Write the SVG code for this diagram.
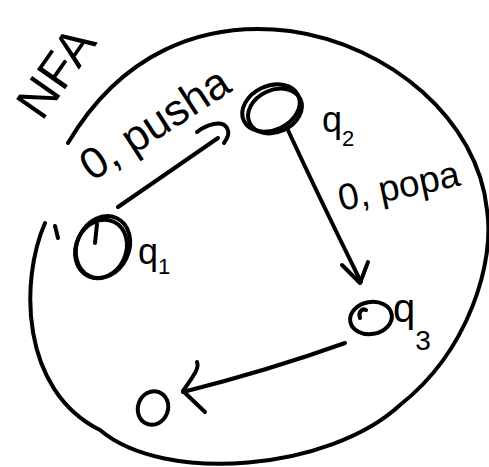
<svg xmlns="http://www.w3.org/2000/svg" width="489" height="467" viewBox="0 0 489 467">
<style>
.s{fill:none;stroke:#000;stroke-width:4;stroke-linecap:round;stroke-linejoin:round}
.t{font-family:"Liberation Sans",Arial,sans-serif;fill:#000}
</style>
<rect width="489" height="467" fill="#fff"/>
<g id="boundary">
<path class="s" d="M45,223 C20,280 20,390 100,430 C165,485 330,470 400,405 C470,350 495,260 487,210 C478,120 390,45 290,31 C200,20 120,55 68,143"/>
<path class="s" d="M55,226 L58,238"/>
</g>
<g id="title"><text class="t" x="42" y="122" font-size="50" transform="rotate(-55 42 122)">NFA</text></g>
<g id="q1">
<ellipse class="s" cx="103" cy="247" rx="26" ry="32" transform="rotate(25 103 247)"/>
<ellipse class="s" cx="101" cy="249" rx="25" ry="30" transform="rotate(25 101 249)" stroke-width="2"/>
<path class="s" d="M97,224 L95,243"/>
<text class="t" x="138" y="264" font-size="36">q<tspan font-size="22" dy="10">1</tspan></text>
</g>
<g id="q2">
<ellipse class="s" cx="271" cy="108" rx="30" ry="22" transform="rotate(-25 271 108)"/>
<ellipse class="s" cx="275" cy="111" rx="28" ry="21" transform="rotate(-25 275 111)" stroke-width="3"/>
<text class="t" x="322" y="132" font-size="36">q<tspan font-size="22" dy="14">2</tspan></text>
</g>
<g id="q3">
<ellipse class="s" cx="371" cy="318" rx="21" ry="16" transform="rotate(-10 371 318)"/>
<path class="s" d="M360,318 C358,312 362,308 366,310"/>
<text class="t" x="393" y="322" font-size="40">q<tspan font-size="28" dy="28">3</tspan></text>
</g>
<g id="q4">
<ellipse class="s" cx="153" cy="408" rx="15" ry="17" transform="rotate(20 153 408)"/>
</g>
<g id="connectors">
<path class="s" d="M118,207 L218,138"/>
<path class="s" d="M197,132 C207,124 222,120 227,128 C230,133 227,139 224,143"/>
<text class="t" x="92" y="182" font-size="44" transform="rotate(-33 92 182)">0, pusha</text>
<path class="s" d="M287,128 Q318,195 361,282"/>
<path class="s" d="M342,265 L360,283 L368,262"/>
<text class="t" x="341" y="211" font-size="37" transform="rotate(-12 341 211)">0, popa</text>
<path class="s" d="M345,343 Q270,370 183,392"/>
<path class="s" d="M197,362 C200,368 192,378 183,391 L205,412"/>
</g>
</svg>
